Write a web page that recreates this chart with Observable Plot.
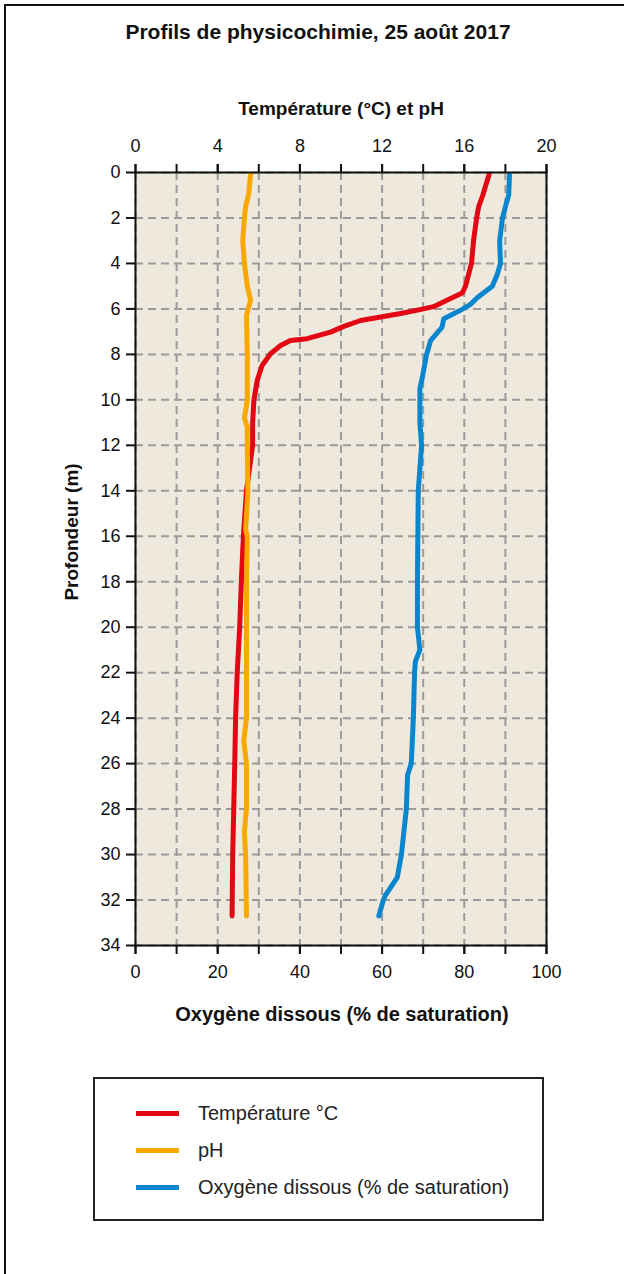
<!DOCTYPE html>
<html>
<head>
<meta charset="utf-8">
<script src="https://cdn.jsdelivr.net/npm/d3@7"></script>
<script src="https://cdn.jsdelivr.net/npm/@observablehq/plot@0.6"></script>
<style>
  html, body { margin:0; padding:0; width:624px; height:1274px; overflow:hidden; background:#fff; }
  body { position:relative; font-family:"Liberation Sans", Arial, sans-serif; color:#111; }
  #border { position:absolute; left:4px; top:4px; width:800px; height:1400px; border:2px solid #111; box-sizing:border-box; }
  #title { position:absolute; left:0; width:636px; top:19px; text-align:center; font-weight:bold; font-size:21px; line-height:26px; }
  #chart { position:absolute; left:0; top:60px; }
  #legend { position:absolute; left:93px; top:1077px; width:451px; height:144px; border:2px solid #222; box-sizing:border-box; }
  .sw { position:absolute; left:41px; width:43px; height:5px; }
  .lab { position:absolute; left:103px; font-size:20px; line-height:24px; white-space:nowrap; color:#222; }
</style>
</head>
<body>
<div id="border"></div>
<div id="title">Profils de physicochimie, 25 août 2017</div>
<div id="chart"></div>
<div id="legend"></div>
<script>
// Temperature (°C)
const tempDepth = [0.1,1,1.5,2,3,4,5,5.3,5.6,5.9,6.02,6.2,6.33,6.51,6.77,7.02,7.31,7.39,7.61,7.97,8.49,9.15,10.03,11,12,14,16,18,20,22,24,26,28,30,32.7];
const tempValues = [17.2,16.9,16.7,16.6,16.45,16.35,16.06,15.9,15.2,14.5,13.9,12.9,12.07,10.95,10.14,9.49,8.35,7.54,7.06,6.57,6.16,5.92,5.76,5.7,5.7,5.4,5.25,5.15,5.07,4.95,4.87,4.83,4.78,4.73,4.7];
// pH
const phDepth = [0.1,1,1.5,2,3,4,5,5.6,6.3,8,10,10.8,11.2,12,14,15.7,16,18,20,22,24,25,26,28,29,30,32.7];
const phValues = [5.6,5.5,5.36,5.3,5.22,5.3,5.44,5.6,5.4,5.44,5.44,5.3,5.44,5.44,5.47,5.36,5.44,5.4,5.4,5.4,5.4,5.27,5.4,5.4,5.3,5.36,5.4];
// Dissolved oxygen (% saturation)
const oxDepth = [0.1,1,1.5,2,3,4,4.5,5,5.5,5.8,6.02,6.2,6.43,6.8,7.39,8.02,9,9.5,10,11,12,13,14,16,18,20,21,21.5,22,24,26,26.5,28,29,30,31,31.8,32,32.7];
const oxValues = [91.0,90.8,90.0,89.3,88.6,88.8,88.0,86.8,83.2,81.5,79.5,77.5,75.0,74.6,71.8,70.8,69.8,69.2,69.2,69.2,69.6,69.2,68.8,68.7,68.6,68.6,69.2,68.1,67.9,67.6,67.1,66.2,65.9,65.3,64.7,63.7,60.8,60.3,59.2];

const topTicks = [0,2,4,6,8,10,12,14,16,18,20];
const topLabels = [0,4,8,12,16,20];
const bottomTicks = [0,10,20,30,40,50,60,70,80,90,100];
const bottomLabels = [0,20,40,60,80,100];
const depthTicks = [0,2,4,6,8,10,12,14,16,18,20,22,24,26,28,30,32,34];

const seriesNames = ["Température °C", "pH", "Oxygène dissous (% de saturation)"];
const seriesColors = ["#e30613", "#f9a800", "#0a86cf"];

const OX_FACTOR = 5; // 100 % maps onto 20 of the top scale

const temp = tempDepth.map((d, i) => ({depth: d, v: tempValues[i]}));
const ph = phDepth.map((d, i) => ({depth: d, v: phValues[i]}));
const ox = oxDepth.map((d, i) => ({depth: d, v: oxValues[i] / OX_FACTOR}));

const font = "Liberation Sans, Arial, sans-serif";

const chart = Plot.plot({
  width: 624,
  height: 980,
  marginTop: 112,
  marginLeft: 135,
  marginRight: 78,
  marginBottom: 95,
  style: {fontFamily: font, fontSize: "18px", color: "#111", background: "transparent", overflow: "visible"},
  x: {domain: [0, 20]},
  y: {domain: [0, 34], reverse: true},
  marks: [
    Plot.frame({fill: "#efe9dd"}),
    Plot.gridX({ticks: topTicks, stroke: "#9b9b9b", strokeOpacity: 1, strokeWidth: 2, strokeDasharray: "8,5"}),
    Plot.gridY({ticks: depthTicks, stroke: "#9b9b9b", strokeOpacity: 1, strokeWidth: 2, strokeDasharray: "8,5"}),
    Plot.line(temp, {x: "v", y: "depth", stroke: seriesColors[0], strokeWidth: 5, strokeLinejoin: "round"}),
    Plot.line(ph, {x: "v", y: "depth", stroke: seriesColors[1], strokeWidth: 5, strokeLinejoin: "round"}),
    Plot.line(ox, {x: "v", y: "depth", stroke: seriesColors[2], strokeWidth: 5, strokeLinejoin: "round"}),
    Plot.frame({stroke: "#111", strokeWidth: 2}),
    Plot.axisX({anchor: "top", ticks: topTicks, tickSize: 9, tickFormat: () => "", stroke: "#111", strokeWidth: 2, label: null}),
    Plot.axisX({anchor: "top", ticks: topLabels, tickSize: 9, tickPadding: 12, fontSize: 18, stroke: "#111", strokeWidth: 2, fill: "#111", label: null}),
    Plot.axisX({anchor: "bottom", ticks: bottomTicks.map(d => d / OX_FACTOR), tickSize: 9, tickFormat: () => "", stroke: "#111", strokeWidth: 2, label: null}),
    Plot.axisX({anchor: "bottom", ticks: bottomLabels.map(d => d / OX_FACTOR), tickSize: 9, tickPadding: 11, fontSize: 18, tickFormat: d => Math.round(d * OX_FACTOR), stroke: "#111", strokeWidth: 2, fill: "#111", label: null}),
    Plot.axisY({anchor: "left", ticks: depthTicks, tickSize: 9, tickPadding: 6, fontSize: 18, stroke: "#111", strokeWidth: 2, fill: "#111", label: null}),
    Plot.text(["Température (°C) et pH"], {frameAnchor: "top", dx: 0, dy: -64, textAnchor: "middle", lineAnchor: "middle", fontWeight: "bold", fontSize: 19, fill: "#111"}),
    Plot.text(["Oxygène dissous (% de saturation)"], {frameAnchor: "bottom", dx: 1, dy: 69, textAnchor: "middle", lineAnchor: "middle", fontWeight: "bold", fontSize: 20, fill: "#111"}),
    Plot.text(["Profondeur (m)"], {frameAnchor: "left", dx: -64, dy: -27, rotate: -90, textAnchor: "middle", lineAnchor: "middle", fontWeight: "bold", fontSize: 19, fill: "#111"})
  ]
});
document.getElementById("chart").appendChild(chart);

const legend = document.getElementById("legend");
seriesNames.forEach((name, i) => {
  const top = 32 + i * 37;
  const sw = document.createElement("div");
  sw.className = "sw";
  sw.style.top = top + "px";
  sw.style.background = seriesColors[i];
  legend.appendChild(sw);
  const lab = document.createElement("div");
  lab.className = "lab";
  lab.style.top = (top - 10) + "px";
  lab.textContent = name;
  legend.appendChild(lab);
});
</script>
</body>
</html>
